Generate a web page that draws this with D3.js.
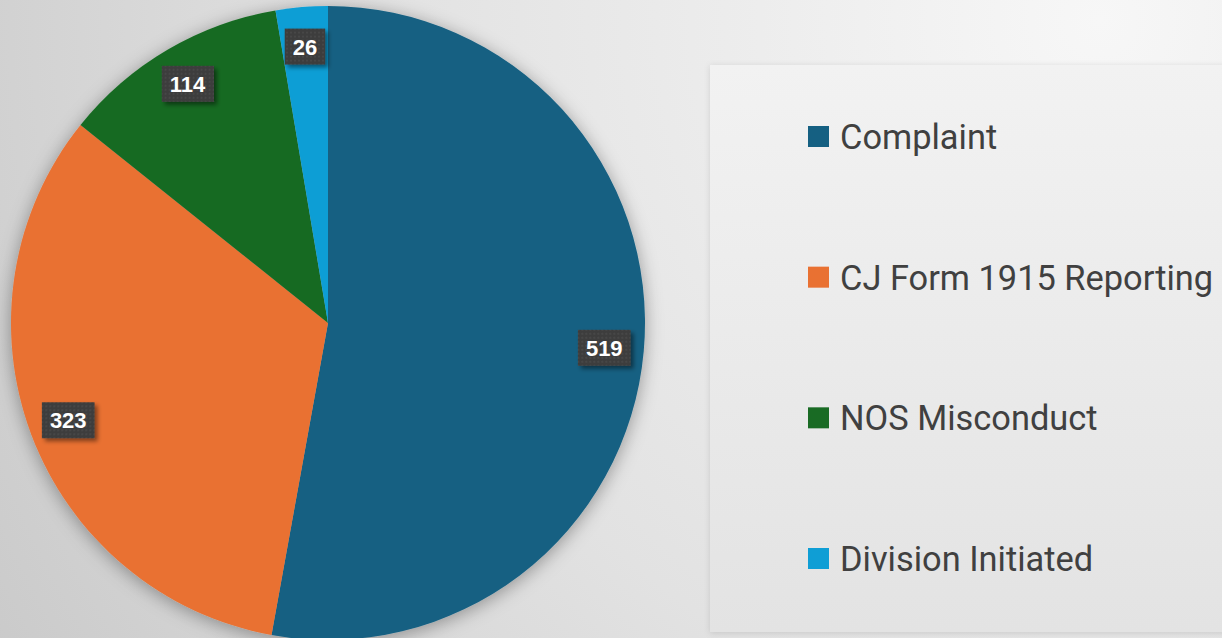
<!DOCTYPE html>
<html lang="en">
<head>
  <meta charset="UTF-8">
  <title>Case Sources</title>
  <style>
    body { margin: 0; padding: 0; overflow: hidden; }
    svg { display: block; }
    .legend-text { font-family: Roboto, "Open Sans", sans-serif; fill: #404040; }
    .label-text { font-family: "Liberation Sans", Arial, sans-serif; font-weight: bold; fill: #fff; }
  </style>
</head>
<body>
  <script src="https://d3js.org/d3.v7.min.js"></script>
  <script>
    // Data
    const categories = ['Complaint', 'CJ Form 1915 Reporting', 'NOS Misconduct', 'Division Initiated'];
    const values = [519, 323, 114, 26];
    const colors = ['#156082', '#E97132', '#196B24', '#0F9ED5'];

    const width = 1222;
    const height = 638;
    const cx = 328, cy = 323, radius = 317;

    const svg = d3.select('body').append('svg')
      .attr('width', width)
      .attr('height', height);

    const defs = svg.append('defs');

    // background gradient, lighter at top right
    const bg = defs.append('radialGradient')
      .attr('id', 'bg')
      .attr('gradientUnits', 'userSpaceOnUse')
      .attr('cx', 1100).attr('cy', 20).attr('r', 1300);
    bg.append('stop').attr('offset', '0%').attr('stop-color', '#f7f7f7');
    bg.append('stop').attr('offset', '55%').attr('stop-color', '#e2e2e2');
    bg.append('stop').attr('offset', '100%').attr('stop-color', '#c9c9c9');

    const panel = defs.append('linearGradient')
      .attr('id', 'panel')
      .attr('x1', 0).attr('y1', 0).attr('x2', 0).attr('y2', 1);
    panel.append('stop').attr('offset', '0%').attr('stop-color', '#f2f2f2');
    panel.append('stop').attr('offset', '100%').attr('stop-color', '#e3e3e3');

    const pieShadow = defs.append('filter').attr('id', 'pieShadow')
      .attr('x', '-20%').attr('y', '-20%').attr('width', '140%').attr('height', '140%');
    pieShadow.append('feDropShadow')
      .attr('dx', 0).attr('dy', 3).attr('stdDeviation', 9)
      .attr('flood-color', '#000').attr('flood-opacity', 0.35);

    const boxShadow = defs.append('filter').attr('id', 'boxShadow')
      .attr('x', '-30%').attr('y', '-30%').attr('width', '170%').attr('height', '170%');
    boxShadow.append('feDropShadow')
      .attr('dx', 3).attr('dy', 3).attr('stdDeviation', 2)
      .attr('flood-color', '#000').attr('flood-opacity', 0.45);

    const dots = defs.append('pattern').attr('id', 'dots')
      .attr('patternUnits', 'userSpaceOnUse').attr('width', 4).attr('height', 4);
    dots.append('rect').attr('width', 4).attr('height', 4).attr('fill', '#3d3d3d');
    dots.append('circle').attr('cx', 2).attr('cy', 2).attr('r', 0.7).attr('fill', '#555');

    const panelShadow = defs.append('filter').attr('id', 'panelShadow')
      .attr('x', '-10%').attr('y', '-10%').attr('width', '120%').attr('height', '120%');
    panelShadow.append('feDropShadow')
      .attr('dx', 0).attr('dy', 1).attr('stdDeviation', 3)
      .attr('flood-color', '#000').attr('flood-opacity', 0.12);

    svg.append('rect').attr('width', width).attr('height', height).attr('fill', 'url(#bg)');

    // legend panel
    svg.append('rect')
      .attr('x', 710).attr('y', 65)
      .attr('width', width - 710 + 10).attr('height', 632 - 65)
      .attr('fill', 'url(#panel)')
      .attr('filter', 'url(#panelShadow)');

    // pie
    const pie = d3.pie().sort(null).value(d => d);
    const arcs = pie(values);
    const arc = d3.arc().innerRadius(0).outerRadius(radius);
    const labelArc = d3.arc().innerRadius(radius * 0.875).outerRadius(radius * 0.875);

    const g = svg.append('g').attr('transform', `translate(${cx},${cy})`);

    g.append('g')
      .attr('filter', 'url(#pieShadow)')
      .selectAll('path')
      .data(arcs)
      .enter().append('path')
        .attr('d', arc)
        .attr('fill', (d, i) => colors[i]);

    // data labels
    const labels = g.selectAll('.label')
      .data(arcs)
      .enter().append('g')
        .attr('class', 'label')
        .attr('transform', d => `translate(${labelArc.centroid(d)})`);

    labels.append('text')
      .attr('class', 'label-text')
      .attr('text-anchor', 'middle')
      .attr('dy', '0.36em')
      .style('font-size', '22px')
      .text(d => d.data);

    labels.each(function() {
      const sel = d3.select(this);
      const bb = sel.select('text').node().getBBox();
      sel.insert('rect', 'text')
        .attr('x', bb.x - 8).attr('y', -18)
        .attr('width', bb.width + 16).attr('height', 36)
        .attr('fill', 'url(#dots)')
        .attr('filter', 'url(#boxShadow)');
    });

    // legend
    const ly = d3.scalePoint()
      .domain(categories)
      .range([137, 559]);

    const legend = svg.append('g').selectAll('.legend-item')
      .data(categories)
      .enter().append('g')
        .attr('class', 'legend-item')
        .attr('transform', d => `translate(808,${ly(d)})`);

    legend.append('rect')
      .attr('x', 0).attr('y', -11)
      .attr('width', 21).attr('height', 21)
      .attr('fill', (d, i) => colors[i]);

    legend.append('text')
      .attr('class', 'legend-text')
      .attr('x', 32)
      .attr('dy', '0.35em')
      .style('font-size', '34.4px')
      .text(d => d);
  </script>
</body>
</html>
